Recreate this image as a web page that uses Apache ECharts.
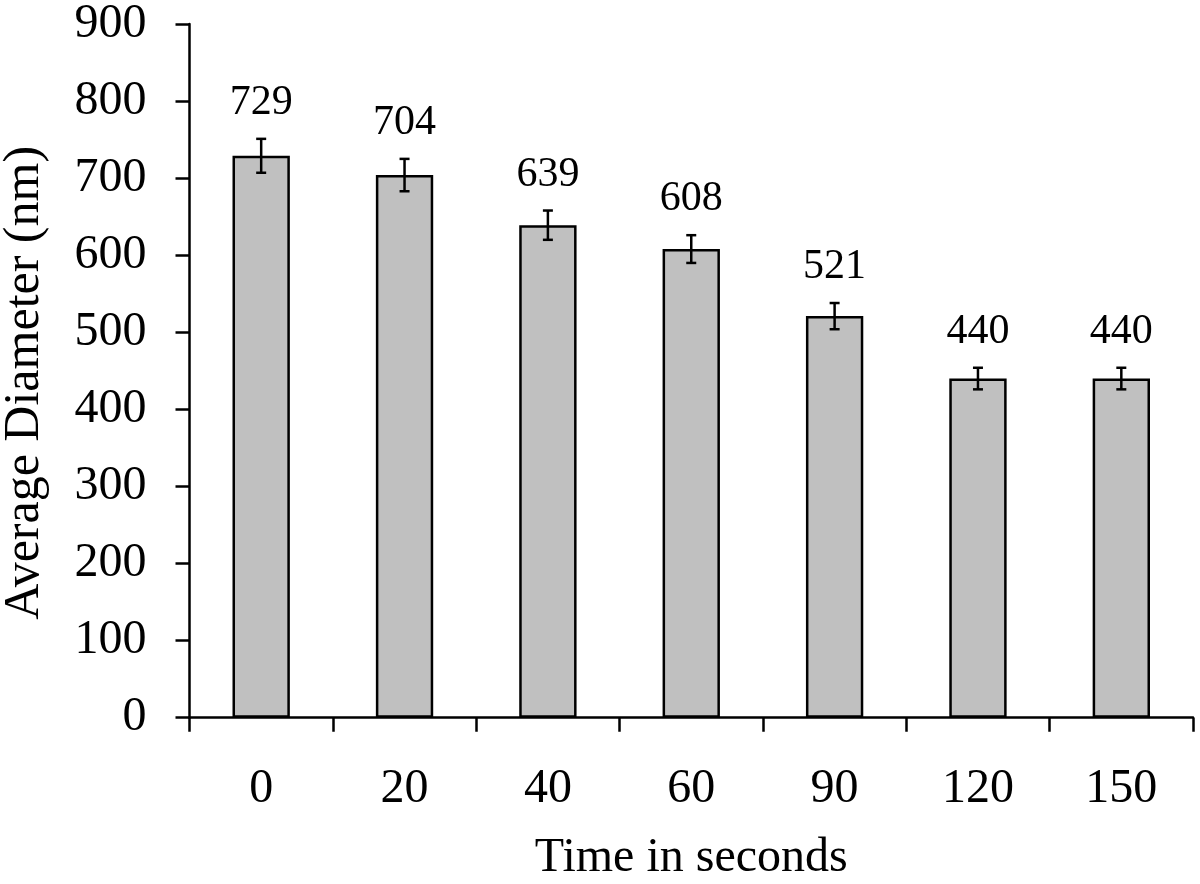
<!DOCTYPE html>
<html>
<head>
<meta charset="utf-8">
<script src="https://cdn.jsdelivr.net/npm/echarts@6/dist/echarts.min.js"></script>
<style>html,body{margin:0;padding:0;background:#fff;}#c{width:1200px;height:884px;}</style>
</head>
<body>
<div id="c"></div>
<script>
var categories = ['0', '20', '40', '60', '90', '120', '150'];
var diameters = [729, 704, 639, 608, 521, 440, 440];
var errors = [22, 21, 19, 18, 17, 14, 14];
var yTicks = { min: 0, max: 900, interval: 100 };

var FONT = 'Liberation Serif';
var chart = echarts.init(document.getElementById('c'));
var errData = diameters.map(function (v, i) { return [i, v, errors[i]]; });

chart.setOption({
  animation: false,
  backgroundColor: '#fff',
  grid: { left: 189.5, right: 7, top: 24, bottom: 166.3, containLabel: false, outerBoundsMode: 'none' },
  xAxis: {
    type: 'category',
    data: categories,
    name: 'Time in seconds',
    nameLocation: 'middle',
    nameGap: 117,
    nameTextStyle: { fontFamily: FONT, fontSize: 48, color: '#000' },
    axisLine: { lineStyle: { color: '#000', width: 2.5 } },
    axisTick: { show: true, length: 14, inside: false, lineStyle: { color: '#000', width: 2.5 } },
    axisLabel: { fontFamily: FONT, fontSize: 48, color: '#000', margin: 48 },
    splitLine: { show: false }
  },
  yAxis: {
    type: 'value',
    min: yTicks.min, max: yTicks.max, interval: yTicks.interval,
    name: 'Average Diameter (nm)',
    nameLocation: 'middle',
    nameGap: 140,
    nameTextStyle: { fontFamily: FONT, fontSize: 50, color: '#000', padding: [0, 24, 0, 0] },
    axisLine: { show: true, lineStyle: { color: '#000', width: 2.5 } },
    axisTick: { show: true, length: 14, lineStyle: { color: '#000', width: 2.5 } },
    axisLabel: { fontFamily: FONT, fontSize: 48, color: '#000', margin: 43 },
    splitLine: { show: false }
  },
  series: [
    {
      type: 'bar',
      data: diameters,
      barWidth: '40%',
      itemStyle: { color: '#c0c0c0', borderColor: '#000', borderWidth: 2.5 }
    },
    {
      type: 'custom',
      data: errData,
      z: 10,
      renderItem: function (params, api) {
        var i = api.value(0), v = api.value(1), e = api.value(2);
        var top = api.coord([i, v + e]);
        var bot = api.coord([i, v - e]);
        var hw = 5;
        var style = { stroke: '#000', lineWidth: 2.5 };
        return {
          type: 'group',
          children: [
            { type: 'line', shape: { x1: top[0], y1: top[1], x2: bot[0], y2: bot[1] }, style: style },
            { type: 'line', shape: { x1: top[0] - hw, y1: top[1], x2: top[0] + hw, y2: top[1] }, style: style },
            { type: 'line', shape: { x1: bot[0] - hw, y1: bot[1], x2: bot[0] + hw, y2: bot[1] }, style: style },
            { type: 'text', x: top[0], y: top[1] - 36,
              style: { text: String(v), fill: '#000', font: '42px "' + FONT + '"', align: 'center', verticalAlign: 'middle' } }
          ]
        };
      }
    }
  ]
});
</script>
</body>
</html>
